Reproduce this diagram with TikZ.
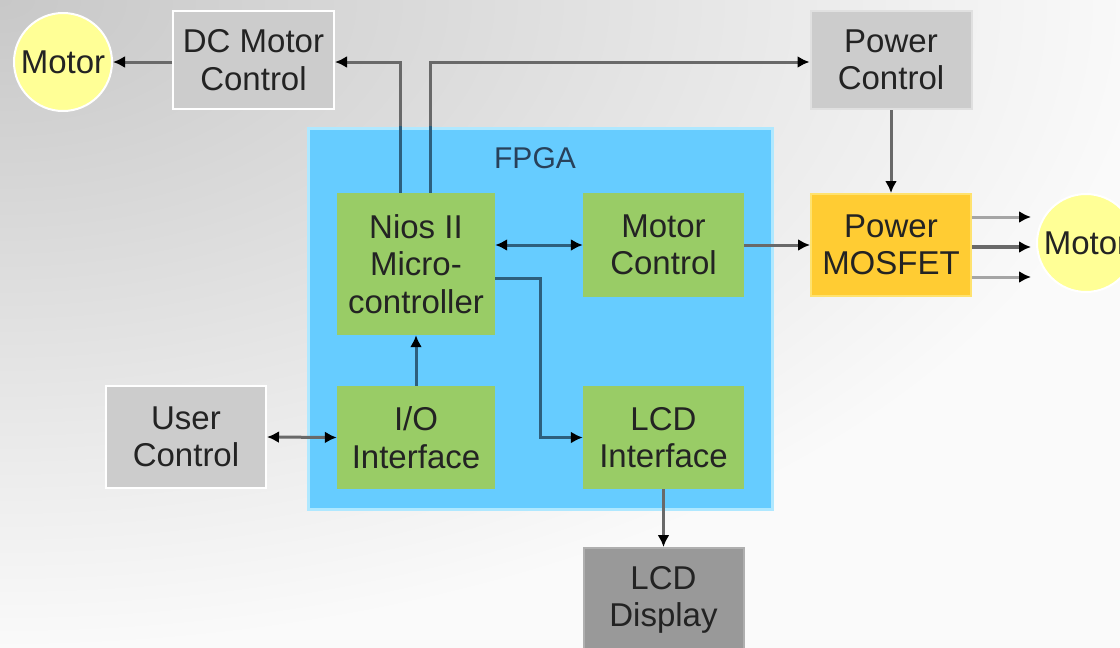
\documentclass[tikz,border=0pt]{standalone}
\usepackage{fontspec}
\setmainfont{Liberation Sans}
\usetikzlibrary{arrows.meta,calc}
\definecolor{bgA}{RGB}{200,200,200}
\definecolor{bgB}{RGB}{250,250,250}
\definecolor{boxgray}{RGB}{204,204,204}
\definecolor{boxdark}{RGB}{153,153,153}
\definecolor{boxdarkedge}{RGB}{175,175,175}
\definecolor{fpgablue}{RGB}{102,204,255}
\definecolor{fpgaedge}{RGB}{175,232,255}
\definecolor{greenblk}{RGB}{153,204,102}
\definecolor{mosfill}{RGB}{255,204,51}
\definecolor{mosedge}{RGB}{255,226,110}
\definecolor{motory}{RGB}{255,255,150}
\definecolor{txt}{RGB}{35,35,35}
\definecolor{fpgatxt}{RGB}{40,65,90}
\definecolor{lineout}{RGB}{105,105,105}
\definecolor{linelight}{RGB}{165,165,165}
\definecolor{linein}{RGB}{45,95,125}
\begin{document}
\begin{tikzpicture}[x=1pt,y=-1pt,
  lbl/.style={align=center, inner sep=0pt, text=txt, font=\fontsize{33}{37.5}\selectfont},
  graybox/.style={lbl, rectangle, fill=boxgray, draw=white, line width=2pt},
  greenbox/.style={lbl, rectangle, fill=greenblk},
  motorc/.style={lbl, circle, fill=motory, draw=white, line width=2pt, minimum size=98pt},
  tip/.style={-{Latex[length=12pt,width=12pt,color=black]}},
  btip/.style={{Latex[length=12pt,width=12pt,color=black]}-{Latex[length=12pt,width=12pt,color=black]}},
  conn/.style={draw=lineout, line width=3pt},
  iconn/.style={draw=linein, line width=3pt}
]
\useasboundingbox (0,0) rectangle (1120,648);
\begin{scope}
  \clip (0,0) rectangle (1120,648);
  \fill[bgB] (0,0) rectangle (1120,648);
  \shade[inner color=bgA, outer color=bgB] (0,0) ellipse[x radius=1150, y radius=650];
\end{scope}

% FPGA
\node[rectangle, fill=fpgablue, draw=fpgaedge, line width=3pt, minimum width=464pt, minimum height=381pt, inner sep=0pt] (fpga) at (540,318.5) {};
\node[lbl, text=fpgatxt, font=\fontsize{30}{36}\selectfont] (fpgalbl) at (535,158) {FPGA};

% outer nodes
\node[motorc] (m1) at (63,62) {Motor};
\node[graybox, minimum width=161pt, minimum height=98pt] (dcmc) at (253.5,60) {DC Motor\\Control};
\node[graybox, draw=boxgray!60!white, minimum width=161pt, minimum height=98pt] (pc) at (891,60) {Power\\Control};
\node[graybox, minimum width=160pt, minimum height=102pt] (uc) at (186,437) {User\\Control};
\node[graybox, fill=boxdark, draw=boxdarkedge, minimum width=160pt, minimum height=104pt] (lcdd) at (663.5,600) {LCD\\Display};
\node[lbl, rectangle, fill=mosfill, draw=mosedge, line width=2pt, minimum width=160pt, minimum height=102pt] (mos) at (891,245) {Power\\MOSFET};
\node[motorc] (m2) at (1086,243) {Motor};

% FPGA blocks
\node[greenbox, minimum width=158pt, minimum height=142pt] (nios) at (416,264) {Nios II\\Micro-\\controller};
\node[greenbox, minimum width=161pt, minimum height=104pt] (mc) at (663.5,245) {Motor\\Control};
\node[greenbox, minimum width=158pt, minimum height=103pt] (io) at (416,437.5) {I/O\\Interface};
\node[greenbox, minimum width=161pt, minimum height=103pt] (lcdi) at (663.5,437.5) {LCD\\Interface};

% connectors outside / crossing
\draw[conn, tip] (dcmc.west |- m1.east) -- (m1.east);
\draw[conn, tip] ([xshift=-16pt]nios.north) |- ([yshift=-2pt]dcmc.east);
\draw[conn, tip] ([xshift=14pt]nios.north) |- ([yshift=-2pt]pc.west);
\begin{scope}
  \clip (fpga.north west) rectangle (fpga.south east);
  \draw[iconn] ([xshift=-16pt]nios.north) -- ([xshift=-16pt,yshift=80pt]nios.north);
  \draw[iconn] ([xshift=14pt]nios.north) -- ([xshift=14pt,yshift=80pt]nios.north);
\end{scope}
\draw[conn, tip] (pc.south) -- (mos.north);
\draw[conn, tip] (mc.east) -- (mos.west);
\draw[conn, btip] (uc.east) -- (io.west);
\draw[conn, tip] (lcdi.south) -- (lcdd.north);
\coordinate (mtgt) at ([xshift=-5pt]m2.west);
\draw[draw=linelight, line width=3pt, tip] ([yshift=28pt]mos.east) -- ([yshift=28pt]mos.east -| mtgt);
\draw[draw=lineout, line width=4pt, tip] ([yshift=-2pt]mos.east) -- ([yshift=-2pt]mos.east -| mtgt);
\draw[draw=linelight, line width=3pt, tip] ([yshift=-32pt]mos.east) -- ([yshift=-32pt]mos.east -| mtgt);

% connectors inside FPGA
\draw[iconn, btip] (mc.west -| nios.east) -- (mc.west);
\draw[iconn, tip] ([yshift=-14pt]nios.east) -- ++(45,0) |- (lcdi.west);
\draw[iconn, tip] (io.north) -- (nios.south);
\end{tikzpicture}
\end{document}
